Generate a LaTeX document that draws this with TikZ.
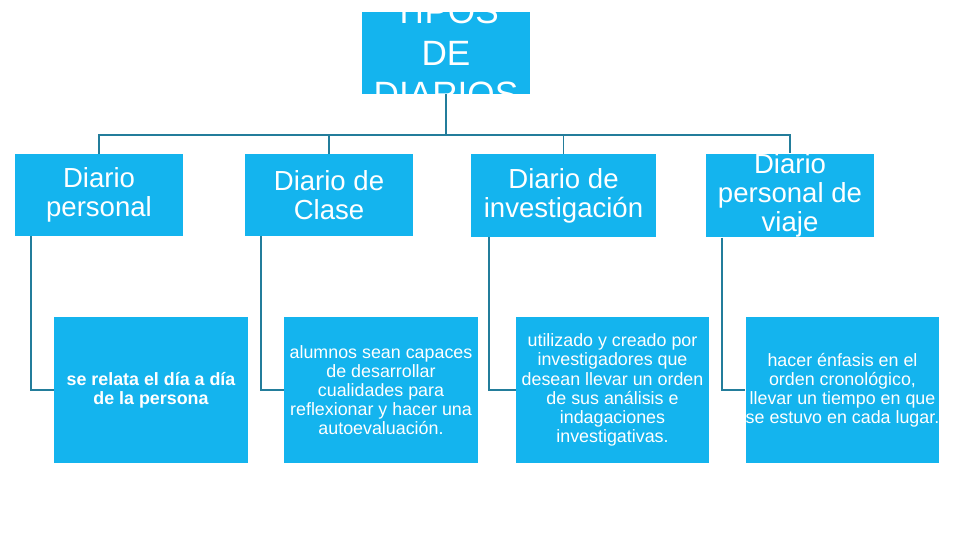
\documentclass[tikz,border=0pt]{standalone}
\usepackage{fontspec}
\setmainfont{Liberation Sans}
\usetikzlibrary{positioning, calc}
\definecolor{dblue}{RGB}{20,180,238}
\definecolor{dline}{RGB}{35,125,155}

\begin{document}
\begin{tikzpicture}[x=0.025cm, y=-0.025cm,
  root/.style={rectangle, fill=dblue, minimum width=4.2cm, minimum height=2.05cm, inner sep=0pt},
  roottext/.style={text=white, align=center, inner sep=0pt, font=\fontsize{25}{29.5}\selectfont},
  kind/.style={rectangle, fill=dblue, minimum width=4.2cm, minimum height=2.05cm, inner sep=0pt, text=white, align=center, font=\fontsize{19.6}{20.6}\selectfont},
  detail/.style={rectangle, fill=dblue, minimum width=4.825cm, minimum height=3.65cm, inner sep=0pt, text=white, align=center, font=\fontsize{12.7}{13.6}\selectfont},
  link/.style={draw=dline, line width=1.4pt}
]
\useasboundingbox (0,0) rectangle (960,540);
\node[root] (tipos) at (446,53) {};
\begin{scope}
\clip (tipos.south west) rectangle (tipos.north east);
\node[roottext] (tipostxt) at (tipos.center) {TIPOS\\DE\\DIARIOS};
\end{scope}
\node[kind] (dpers) at (99,195) {Diario\\personal};
\node[kind] (dclase) at (329,195) {Diario de\\Clase};
\node[kind, minimum width=4.625cm, minimum height=2.075cm] (dinv) at (563.5,195.5) {Diario de\\investigación};
\node[kind, minimum height=2.075cm] (dviaje) at (790,195.5) {Diario\\personal de\\viaje};
\node[detail, font=\fontsize{12.7}{13.6}\selectfont\bfseries] (tpers) at (151,390) {se relata el día a día\\de la persona};
\node[detail] (tclase) at (381,390) {alumnos sean capaces\\de desarrollar\\cualidades para\\reflexionar y hacer una\\autoevaluación.};
\node[detail] (tinv) at (612.5,390) {utilizado y creado por\\investigadores que\\desean llevar un orden\\de sus análisis e\\indagaciones\\investigativas.};
\node[detail] (tviaje) at (842.5,390) {hacer énfasis en el\\orden cronológico,\\llevar un tiempo en que\\se estuvo en cada lugar.};
\coordinate (bus) at (446,135);
\draw[link] (tipos.south) -- (bus);
\draw[link] (bus) -| (dpers.north);
\draw[link] (bus) -| (dclase.north);
\draw[link] (bus) -| (dinv.north);
\draw[link] (bus) -| (dviaje.north);
\draw[link] ([xshift=0.4cm]dpers.south west) |- (tpers.west);
\draw[link] ([xshift=0.4cm]dclase.south west) |- (tclase.west);
\draw[link] ([xshift=0.45cm]dinv.south west) |- (tinv.west);
\draw[link] ([xshift=0.4cm]dviaje.south west) |- (tviaje.west);
\end{tikzpicture}
\end{document}
